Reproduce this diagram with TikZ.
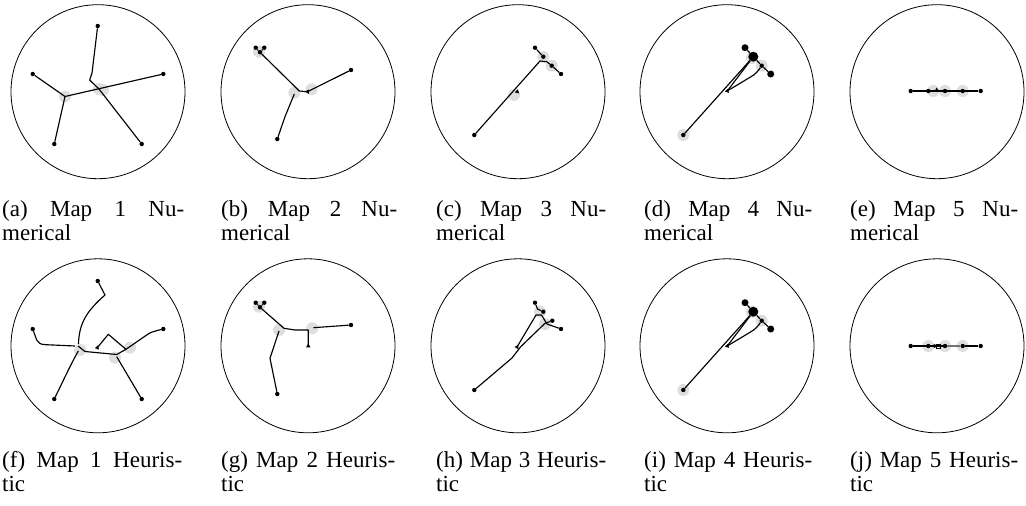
\documentclass[tikz,border=0pt]{standalone}
\usepackage{fontspec}
\setmainfont{Liberation Serif}
\usetikzlibrary{shapes.geometric}
\begin{document}
\begin{tikzpicture}[x=1pt,y=-1pt,
 ring/.style={draw,line width=0.8pt},
 edge/.style={line width=1.15pt,line join=round},
 dot/.style={circle,fill=black,inner sep=0pt,minimum size=4.4pt},
 bigdot/.style={circle,fill=black,inner sep=0pt,minimum size=7pt},
 hugedot/.style={circle,fill=black,inner sep=0pt,minimum size=10pt},
 halo/.style={circle,fill=black!13,inner sep=0pt,minimum size=12pt},
 tri/.style={regular polygon,regular polygon sides=3,fill=black,inner sep=0pt,minimum size=5pt},
 captext/.style={anchor=base west,inner sep=0pt,font=\fontsize{23}{24}\selectfont}
]
\useasboundingbox (0,0) rectangle (1026,506);
% rings
\foreach \cx/\nm in {98/a,308/b,518/c,727/d,937/e}{
  \node[ring,circle,minimum size=174pt,inner sep=0pt] (ring\nm) at (\cx,91.7) {};}
\foreach \cx/\nm in {98/f,308/g,518/h,727/i,937/j}{
  \node[ring,circle,minimum size=174pt,inner sep=0pt] (ring\nm) at (\cx,345.8) {};}

% ---------- (a)
\node[halo] (ah1) at (65,96.5) {};
\node[halo] (ah2) at (99,89) {};
\node[halo] (ah3) at (103,90) {};
\coordinate (aJ1) at (65,96.5);
\coordinate (aK1) at (92,73);
\coordinate (aK2) at (89.7,80);
\coordinate (aJ2) at (99,89);
\node[dot] (a1) at (97.7,26) {};
\node[dot] (a2) at (32.7,74) {};
\node[dot] (a3) at (163.3,74) {};
\node[dot] (a4) at (54.3,144) {};
\node[dot] (a5) at (141.7,144) {};
\draw[edge] (a1) -- (aK1) -- (aK2) -- (aJ2) -- (a5);
\draw[edge] (a2) -- (aJ1) -- (a3);
\draw[edge] (a4) -- (aJ1);

% ---------- (b)
\node[halo] (bh1) at (259,51.7) {};
\node[halo] (bh2) at (294.3,92.7) {};
\node[halo] (bh3) at (311.7,89.3) {};
\node[dot] (b1) at (255.7,47.7) {};
\node[dot] (b2) at (264.3,47.7) {};
\node[dot] (b3) at (260,52.3) {};
\coordinate (bJ1) at (299.3,91);
\node[tri,rotate=90] (bT) at (307.5,91.7) {};
\node[dot] (b4) at (351,70) {};
\coordinate (bS) at (294.3,94);
\coordinate (bK) at (285,116.7);
\node[dot] (b5) at (277.3,139) {};
\draw[edge] (b1) -- (b3) -- (b2);
\draw[edge] (b3) -- (bJ1) -- (bT.center);
\draw[edge] (bT.center) -- (b4);
\draw[edge] (bS) -- (bK) -- (b5);

% ---------- (c)
\node[halo] (ch1) at (543.3,57) {};
\node[halo] (ch2) at (551.7,65.7) {};
\node[halo] (ch3) at (514,95) {};
\node[dot] (c1) at (535,47.7) {};
\node[dot] (c2) at (543.3,56.7) {};
\node[dot] (c3) at (551.7,65.7) {};
\node[dot] (c4) at (561,74) {};
\node[dot] (c5) at (474.3,135) {};
\coordinate (cK1) at (540,61);
\coordinate (cK2) at (546.7,61.7);
\node[tri,rotate=-135] (cT) at (517.3,91.7) {};
\draw[edge] (c1) -- (c2);
\draw[edge] (c5) -- (cK1) -- (cK2) -- (c3) -- (c4);

% ---------- (d)
\node[halo] (dh1) at (761.7,65.7) {};
\node[halo] (dh2) at (683.3,135) {};
\node[halo] (dh3) at (752,58) {};
\node[bigdot] (d1) at (745,47.7) {};
\node[hugedot] (d2) at (753.3,56.7) {};
\node[dot] (d3) at (761.7,65.7) {};
\node[bigdot] (d4) at (770.7,74) {};
\node[dot] (d5) at (683.3,135) {};
\node[tri,rotate=-140] (dT) at (727.3,91) {};
\coordinate (dK) at (750,77.3);
\draw[edge] (d5) -- (d2);
\draw[edge] (d2) -- (dT.center);
\draw[edge] (dT.center) -- (dK) .. controls (756,74) and (758,71) .. (d3);
\draw[edge] (d1) -- (d2) -- (d3) -- (d4);

% ---------- (e)
\node[halo] (eh1) at (933.3,91) {};
\node[halo] (eh2) at (945,91) {};
\node[halo] (eh3) at (962.7,91) {};
\node[dot] (e1) at (910.7,91) {};
\node[dot] (e2) at (928.3,91) {};
\node[dot] (e3) at (945,91) {};
\node[dot] (e4) at (962.7,91) {};
\node[dot] (e5) at (980.7,91) {};
\node[tri] (eT) at (936.7,90) {};
\draw[edge] (e1) -- (e5);

% ---------- (f)
\node[halo] (fh1) at (80,350) {};
\node[halo] (fh2) at (115,357.7) {};
\node[halo] (fh3) at (130,347.7) {};
\node[dot] (f1) at (97.7,281) {};
\node[dot] (f2) at (32.7,329) {};
\node[dot] (f3) at (163.3,329) {};
\node[dot] (f4) at (54.3,399) {};
\node[dot] (f5) at (141.7,399) {};
\coordinate (f1a) at (105,295);
\coordinate (fJ1) at (78.5,344);
\coordinate (f2a) at (36.7,340);
\coordinate (fL) at (75,346);
\coordinate (fM0) at (78,346);
\coordinate (fM1) at (85,351.5);
\coordinate (fM2) at (116.7,354.5);
\coordinate (fM3) at (126,349.3);
\coordinate (fM4) at (108.3,334.3);
\node[tri,rotate=-140] (fT) at (97.3,347.7) {};
\coordinate (fR1) at (146.7,335);
\coordinate (fB1) at (78.3,351);
\coordinate (fB2) at (116.7,356.7);
\draw[edge] (f1) -- (f1a) .. controls (88,310) and (79,322) .. (fJ1);
\draw[edge] (f2) -- (f2a) .. controls (38.5,343) and (40,344.5) .. (46,344.7) -- (fL);
\draw[edge] (fM0) -- (fM1) -- (fM2) -- (fM3) -- (fM4) -- (fT.center);
\draw[edge] (fM3) -- (fR1) .. controls (150,332.5) and (153,331.5) .. (f3);
\draw[edge] (f4) .. controls (65,377) and (72,362) .. (fB1);
\draw[edge] (f5) -- (fB2);

% ---------- (g)
\node[halo] (gh1) at (259,306.7) {};
\node[halo] (gh2) at (279,330) {};
\node[halo] (gh3) at (312.3,328.3) {};
\node[dot] (g1) at (255.7,302.7) {};
\node[dot] (g2) at (264.3,302.7) {};
\node[dot] (g3) at (260,307.3) {};
\coordinate (gA) at (284,328.3);
\coordinate (gB) at (295,330);
\coordinate (gC) at (308.3,330);
\node[tri] (gT) at (308.3,346) {};
\coordinate (gR0) at (313.3,327.7);
\node[dot] (g4) at (351,325) {};
\coordinate (gL0) at (279,331);
\coordinate (gK) at (270,358.3);
\node[dot] (g5) at (277.3,394) {};
\draw[edge] (g1) -- (g3) -- (g2);
\draw[edge] (g3) -- (gA) -- (gB) -- (gC) -- (gT.center);
\draw[edge] (gR0) -- (g4);
\draw[edge] (gL0) -- (gK) -- (g5);

% ---------- (h)
\node[halo] (hh1) at (540,311.7) {};
\node[halo] (hh2) at (545,324) {};
\node[dot] (h1) at (535,302.7) {};
\node[dot] (h2) at (543.3,311.7) {};
\node[dot] (h3) at (552.3,320.7) {};
\node[dot] (h4) at (561,329) {};
\node[dot] (h5) at (474.3,390) {};
\coordinate (hA) at (537.5,309);
\coordinate (hB) at (536,315);
\coordinate (hC) at (541.5,315);
\coordinate (hD) at (547,324);
\coordinate (hE) at (512,358);
\coordinate (hF) at (520.7,346.7);
\coordinate (hG) at (545,323.3);
\node[tri,rotate=-150] (hT) at (517,347) {};
\draw[edge] (h1) -- (hA) -- (h2);
\draw[edge] (hT.center) -- (hB) -- (hC) -- (hD) -- (h4);
\draw[edge] (h5) -- (hE) -- (hF) -- (hG) -- (h3);

% ---------- (i)
\node[halo] (ih1) at (761.7,320.7) {};
\node[halo] (ih2) at (683.3,390) {};
\node[halo] (ih3) at (752,312) {};
\node[bigdot] (i1) at (745,302.7) {};
\node[hugedot] (i2) at (753.3,311.7) {};
\node[dot] (i3) at (761.7,320.7) {};
\node[bigdot] (i4) at (770.7,329) {};
\node[dot] (i5) at (683.3,390) {};
\node[tri,rotate=-140] (iT) at (727.3,346) {};
\coordinate (iK) at (750,332.3);
\draw[edge] (i5) -- (i2);
\draw[edge] (i2) -- (iT.center);
\draw[edge] (iT.center) -- (iK) .. controls (756,329) and (758,326) .. (i3);
\draw[edge] (i1) -- (i2) -- (i3) -- (i4);

% ---------- (j)
\node[halo] (jh1) at (928.3,346) {};
\node[halo] (jh2) at (945,346) {};
\node[halo] (jh3) at (962.7,346) {};
\node[dot] (j1) at (910.7,346) {};
\node[dot] (j2) at (928.3,346) {};
\node[dot] (j3) at (945,346) {};
\node[dot] (j4) at (962.7,346) {};
\node[dot] (j5) at (980.7,346) {};
\node[tri,rotate=90] (jT) at (934,346) {};
\draw[edge] (j1) -- (j3);
\draw[edge,black!55] (j3) -- (j4);
\draw[edge] (j4) -- (j5);
\draw[line width=0.6pt] (936.5,344) rectangle (940.5,348);

% ---------- captions
\node[captext] (capa1) at (2,216) {\makebox[182pt][s]{(a) Map 1 Nu-}};
\node[captext] (capa2) at (2,240) {merical};
\node[captext] (capb1) at (221,216) {\makebox[176pt][s]{(b) Map 2 Nu-}};
\node[captext] (capb2) at (221,240) {merical};
\node[captext] (capc1) at (436,216) {\makebox[170pt][s]{(c) Map 3 Nu-}};
\node[captext] (capc2) at (436,240) {merical};
\node[captext] (capd1) at (644,216) {\makebox[168pt][s]{(d) Map 4 Nu-}};
\node[captext] (capd2) at (644,240) {merical};
\node[captext] (cape1) at (850,216) {\makebox[168pt][s]{(e) Map 5 Nu-}};
\node[captext] (cape2) at (850,240) {merical};

\node[captext] (capf1) at (2,467) {\makebox[180pt][s]{(f) Map 1 Heuris-}};
\node[captext] (capf2) at (2,491) {tic};
\node[captext] (capg1) at (221,467) {\makebox[174pt][s]{(g) Map 2 Heuris-}};
\node[captext] (capg2) at (221,491) {tic};
\node[captext] (caph1) at (436,467) {\makebox[170pt][s]{(h) Map 3 Heuris-}};
\node[captext] (caph2) at (436,491) {tic};
\node[captext] (capi1) at (644,467) {\makebox[168pt][s]{(i) Map 4 Heuris-}};
\node[captext] (capi2) at (644,491) {tic};
\node[captext] (capj1) at (850,467) {\makebox[168pt][s]{(j) Map 5 Heuris-}};
\node[captext] (capj2) at (850,491) {tic};
\end{tikzpicture}
\end{document}
